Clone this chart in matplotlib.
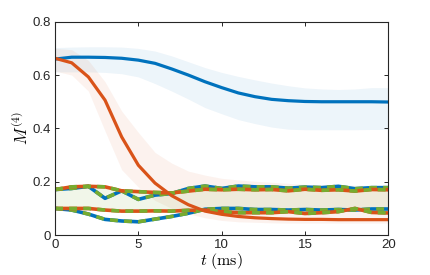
import matplotlib
matplotlib.use('Agg')
import matplotlib.pyplot as plt
import numpy as np

plt.rcParams['font.family'] = ['Liberation Sans', 'DejaVu Sans']
plt.rcParams['mathtext.fontset'] = 'cm'

blue = '#0072BD'
orange = '#D95319'
green = '#77AC30'

t = np.arange(0, 21)

# main curves and their shaded bands
blue_mean = [0.66, 0.667, 0.667, 0.666, 0.663, 0.656, 0.644, 0.623, 0.60, 0.575, 0.553,
             0.533, 0.519, 0.509, 0.504, 0.501, 0.50, 0.50, 0.50, 0.50, 0.499]
blue_lo = [0.612, 0.612, 0.612, 0.61, 0.605, 0.593, 0.568, 0.54, 0.51, 0.478, 0.455,
           0.433, 0.418, 0.405, 0.397, 0.395, 0.395, 0.395, 0.395, 0.396, 0.396]
blue_hi = [0.703, 0.705, 0.706, 0.706, 0.705, 0.70, 0.69, 0.672, 0.65, 0.628, 0.61,
           0.595, 0.582, 0.57, 0.56, 0.552, 0.548, 0.546, 0.548, 0.553, 0.553]

orange_mean = [0.663, 0.646, 0.593, 0.506, 0.368, 0.262, 0.195, 0.148, 0.114, 0.09, 0.078,
               0.07, 0.065, 0.062, 0.06, 0.059, 0.059, 0.058, 0.058, 0.058, 0.058]
orange_lo = [0.615, 0.60, 0.54, 0.39, 0.245, 0.18, 0.13, 0.10, 0.08, 0.065, 0.055,
             0.05, 0.048, 0.046, 0.045, 0.045, 0.045, 0.045, 0.045, 0.045, 0.045]
orange_hi = [0.70, 0.695, 0.655, 0.575, 0.465, 0.385, 0.31, 0.27, 0.24, 0.225, 0.213,
             0.207, 0.202, 0.198, 0.194, 0.19, 0.189, 0.188, 0.187, 0.186, 0.185]

# dashed pairs (blue/green and orange/green)
bg_upper = [0.171, 0.175, 0.183, 0.138, 0.166, 0.134, 0.15, 0.156, 0.175, 0.184, 0.175,
            0.184, 0.181, 0.181, 0.176, 0.18, 0.178, 0.183, 0.174, 0.178, 0.178]
og_upper = [0.171, 0.181, 0.183, 0.181, 0.166, 0.163, 0.16, 0.158, 0.165, 0.172, 0.17,
            0.172, 0.17, 0.171, 0.166, 0.172, 0.168, 0.17, 0.165, 0.171, 0.17]
bg_lower = [0.10, 0.094, 0.079, 0.059, 0.053, 0.05, 0.06, 0.07, 0.082, 0.097, 0.10,
            0.10, 0.096, 0.096, 0.094, 0.096, 0.094, 0.096, 0.094, 0.098, 0.098]
og_lower = [0.10, 0.10, 0.10, 0.094, 0.09, 0.09, 0.091, 0.09, 0.093, 0.094, 0.088,
            0.084, 0.084, 0.084, 0.088, 0.081, 0.084, 0.088, 0.10, 0.085, 0.083]

fig = plt.figure(figsize=(4.3, 2.75), dpi=100)
ax = fig.add_axes([0.128, 0.145, 0.775, 0.776])

ax.fill_between(t, blue_lo, blue_hi, color=blue, alpha=0.07, lw=0)
ax.fill_between(t, orange_lo, orange_hi, color=orange, alpha=0.07, lw=0)
ax.fill_between(t, og_lower, og_upper, color=green, alpha=0.1, lw=0)

for y, c in [(bg_upper, blue), (og_upper, orange), (bg_lower, blue), (og_lower, orange)]:
    ax.plot(t, y, color=c, lw=2.6, solid_capstyle='butt')
    ax.plot(t, y, color=green, lw=2.6, dashes=(2.2, 1.7), dash_capstyle='butt')

ax.plot(t, blue_mean, color=blue, lw=2.3)
ax.plot(t, orange_mean, color=orange, lw=2.3)

ax.set_xlim(0, 20)
ax.set_ylim(0, 0.8)
ax.set_xticks([0, 5, 10, 15, 20])
ax.set_yticks([0, 0.2, 0.4, 0.6, 0.8])
ax.set_yticklabels(['0', '0.2', '0.4', '0.6', '0.8'])
ax.tick_params(direction='in', length=3, width=0.7, top=True, right=True,
               labelsize=9.5, colors='#262626', pad=3)
for s in ax.spines.values():
    s.set_color('#262626')
    s.set_linewidth(0.8)

ax.set_xlabel(r'$t\ (\mathrm{ms})$', fontsize=11.5, labelpad=0)
ax.set_ylabel(r'$M^{(4)}$', fontsize=12, labelpad=1)

fig.savefig('out.png', dpi=100)
